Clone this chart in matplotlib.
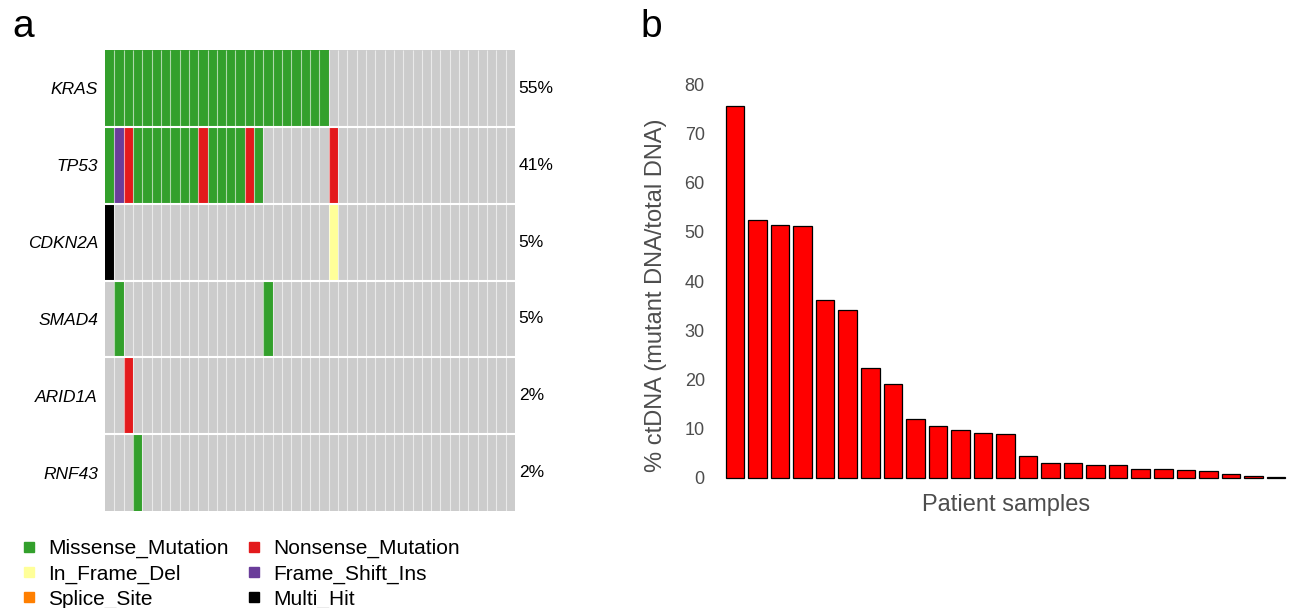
import numpy as np
import matplotlib
matplotlib.use("Agg")
import matplotlib.pyplot as plt
from matplotlib.colors import ListedColormap
from matplotlib.lines import Line2D

plt.rcParams['font.family'] = ['Liberation Sans', 'DejaVu Sans']

# ---- panel a: oncoplot data ----
genes = ["KRAS", "TP53", "CDKN2A", "SMAD4", "ARID1A", "RNF43"]
gene_pct = ["55%", "41%", "5%", "5%", "2%", "2%"]

# one character per sample (44 samples), written in groups of 4
# M missense, N nonsense, D in-frame del, F frame-shift ins, S splice site, H multi hit, . none
onco_rows = [
    "MMMM MMMM MMMM MMMM MMMM MMMM .... .... .... .... ....",  # KRAS
    "MFNM MMMM MMNM MMMN M... .... N... .... .... .... ....",  # TP53
    "H... .... .... .... .... .... D... .... .... .... ....",  # CDKN2A
    ".M.. .... .... .... .M.. .... .... .... .... .... ....",  # SMAD4
    "..N. .... .... .... .... .... .... .... .... .... ....",  # ARID1A
    "...M .... .... .... .... .... .... .... .... .... ....",  # RNF43
]

variant_names = ["Missense_Mutation", "In_Frame_Del", "Splice_Site",
                 "Nonsense_Mutation", "Frame_Shift_Ins", "Multi_Hit"]
variant_codes = ["M", "D", "S", "N", "F", "H"]
variant_colors = ["#33A02C", "#FFFF99", "#FF7F00", "#E31A1C", "#6A3D9A", "#000000"]
no_mut_color = "#CCCCCC"

# ---- panel b: ctDNA fraction per patient ----
ctdna = [75.5, 52.4, 51.4, 51.1, 36.1, 34.2, 22.3, 19.0, 11.9, 10.6, 9.7, 9.1,
         9.0, 4.4, 3.1, 3.0, 2.7, 2.6, 1.9, 1.8, 1.6, 1.4, 0.8, 0.45, 0.15]

# build the integer matrix
code_to_int = {c: i + 1 for i, c in enumerate(variant_codes)}
rows = [r.replace(" ", "") for r in onco_rows]
n_samples = len(rows[0])
mat = np.array([[code_to_int.get(ch, 0) for ch in r] for r in rows])

W, H = 1294, 608
fig = plt.figure(figsize=(W / 100, H / 100), dpi=100)

# oncoplot
ax1 = fig.add_axes([105 / W, (H - 511) / H, 410 / W, 461 / H])
cmap = ListedColormap([no_mut_color] + variant_colors)
ax1.pcolormesh(np.arange(n_samples + 1), np.arange(len(genes) + 1), mat,
               cmap=cmap, vmin=-0.5, vmax=len(variant_codes) + 0.5)
ax1.vlines(np.arange(1, n_samples), 0, len(genes), color="white", lw=0.8, alpha=0.6)
ax1.hlines(np.arange(1, len(genes)), 0, n_samples, color="white", lw=1.5)
ax1.set_xlim(0, n_samples)
ax1.set_ylim(len(genes), 0)
ax1.set_xticks([])
ax1.set_yticks(np.arange(len(genes)) + 0.5)
ax1.set_yticklabels(genes, fontstyle="italic", fontsize=12.5)
ax1.tick_params(axis="y", length=0, pad=5)
for s in ax1.spines.values():
    s.set_visible(False)
for i, p in enumerate(gene_pct):
    ax1.text(n_samples + 0.4, i + 0.5, p, ha="left", va="center", fontsize=12.5)

handles = [Line2D([], [], marker="s", ls="none", color=c, markersize=7.5)
           for c in variant_colors]
fig.legend(handles, variant_names, ncol=2, loc="upper left",
           bbox_to_anchor=(21 / W, 1 - 539 / H), frameon=False, fontsize=15,
           handlelength=0.8, handletextpad=0.5, columnspacing=0.84,
           labelspacing=0.29, borderpad=0, borderaxespad=0)

fig.text(12 / W, 1 - 37 / H, "a", fontsize=28, va="baseline", ha="left")
fig.text(640 / W, 1 - 37 / H, "b", fontsize=28, va="baseline", ha="left")

# bar chart
ax2 = fig.add_axes([721.5 / W, (H - 497.7) / H, 568 / W, 433.4 / H])
x = np.arange(len(ctdna))
ax2.bar(x, ctdna, width=0.82, color="#FF0000", edgecolor="black", linewidth=0.9)
ax2.set_xlim(-0.6, len(ctdna) - 0.4)
ax2.set_ylim(-4, 84)
ax2.set_yticks(np.arange(0, 81, 10))
ax2.set_xticks([])
ax2.tick_params(axis="y", length=0, pad=12, labelsize=13, labelcolor="#4D4D4D")
for s in ax2.spines.values():
    s.set_visible(False)
ax2.set_ylabel("% ctDNA (mutant DNA/total DNA)", fontsize=17, color="#4D4D4D")
ax2.yaxis.set_label_coords(-0.096, 0.467)
ax2.set_xlabel("Patient samples", fontsize=17, color="#4D4D4D")
ax2.xaxis.set_label_coords(0.501, 0.009)

fig.savefig("out.png", dpi=100)
